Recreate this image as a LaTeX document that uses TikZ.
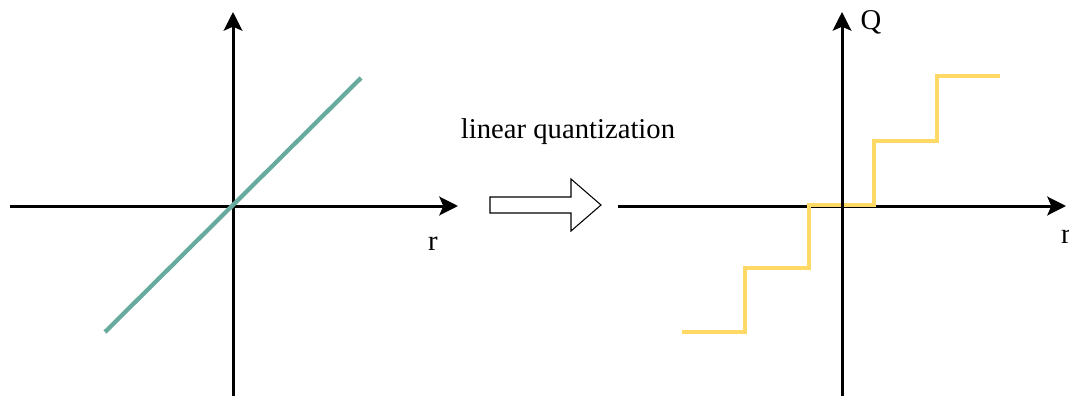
\documentclass[tikz,border=0pt]{standalone}
\usepackage{fontspec}
\setmainfont{Liberation Serif}
\usetikzlibrary{arrows.meta,positioning}

\begin{document}
\begin{tikzpicture}[
  x=0.75pt, y=-0.75pt,
  axis/.style={line width=2.25pt, -{Stealth[length=14pt,width=14pt,inset=3pt]}},
  lbl/.style={font=\fontsize{21.5pt}{25pt}\selectfont, inner sep=0pt},
  bigarrow/.style={draw, line width=0.8pt, line join=miter},
  ideal/.style={line width=3.2pt, draw={rgb,255:red,103;green,171;blue,159}},
  steps/.style={line width=2.6pt, draw={rgb,255:red,255;green,217;blue,102}}
]
  \useasboundingbox (0,0) rectangle (1069,399);

  % left: real values
  \coordinate (lw) at (10,206);
  \coordinate (le) at (458,206);
  \coordinate (ls) at (233,396);
  \coordinate (ln) at (233,12);
  \draw[axis] (lw) -- (le);
  \draw[axis] (ls) -- (ln);
  \draw[ideal] (105,332) -- (361,78);
  \node[lbl] (rl) at (433,244) {r};

  % middle
  \node[lbl] (txt) at (568,132) {linear quantization};
  \draw[bigarrow] (490,197) -- (571,197) -- (571,179) -- (601,205)
    -- (571,231) -- (571,213) -- (490,213) -- cycle;

  % right: quantized values
  \coordinate (rw) at (618,206);
  \coordinate (re) at (1066,206);
  \coordinate (rs) at (842,396);
  \coordinate (rn) at (842,12);
  \draw[axis] (rw) -- (re);
  \draw[steps] (682,332) -- (745,332) -- (745,268) -- (809,268) -- (809,205)
    -- (874,205) -- (874,141) -- (937,141) -- (937,76) -- (1000,76);
  \draw[axis] (rs) -- (rn);
  \node[lbl] (q) at (871,22) {Q};
  \node[lbl] (rr) at (1066,237) {r};
\end{tikzpicture}
\end{document}
